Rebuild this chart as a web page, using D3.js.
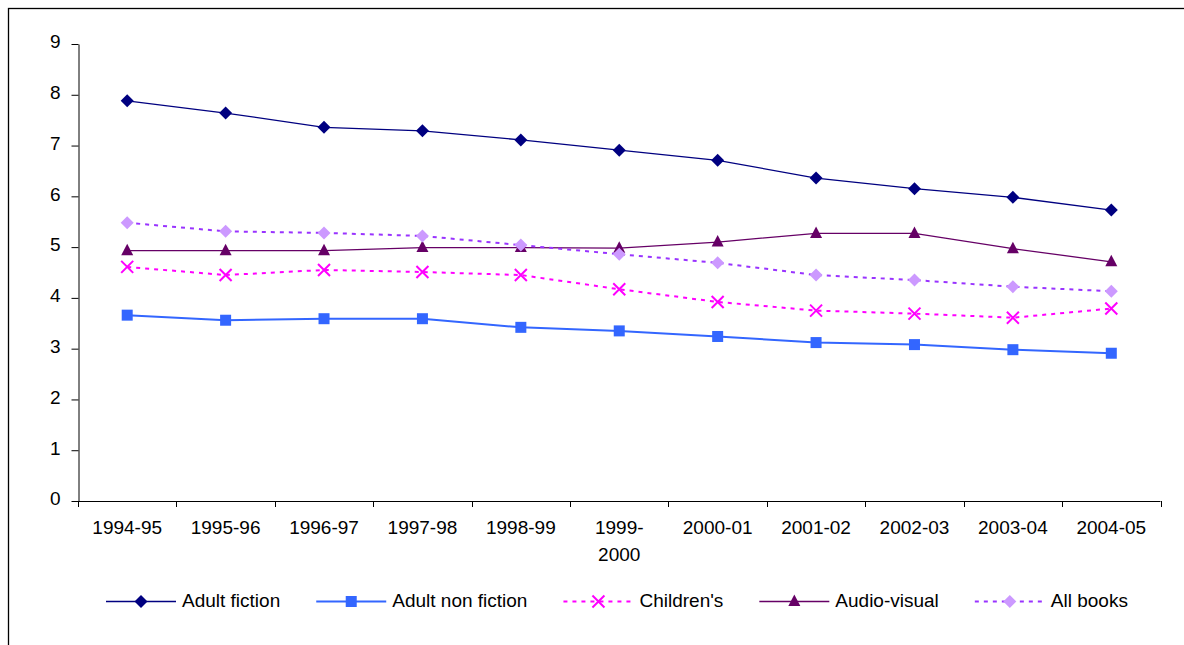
<!DOCTYPE html>
<html>
<head>
<meta charset="utf-8">
<script src="https://cdn.jsdelivr.net/npm/d3@7"></script>
<style>
  body { margin: 0; background: #fff; }
  svg { display: block; font-family: "Liberation Sans", Arial, sans-serif; }
</style>
</head>
<body>
<svg id="chart" width="1184" height="645"></svg>
<script>
// data
const years = ['1994-95', '1995-96', '1996-97', '1997-98', '1998-99', '1999-2000',
    '2000-01', '2001-02', '2002-03', '2003-04', '2004-05'];
const adultFiction = [7.88, 7.64, 7.36, 7.29, 7.11, 6.91, 6.71, 6.36, 6.15, 5.98, 5.73];
const adultNonFiction = [3.66, 3.56, 3.59, 3.59, 3.42, 3.35, 3.24, 3.12, 3.08, 2.98, 2.91];
const childrens = [4.61, 4.45, 4.55, 4.51, 4.45, 4.17, 3.92, 3.75, 3.69, 3.61, 3.79];
const audioVisual = [4.93, 4.93, 4.93, 4.99, 4.99, 4.98, 5.10, 5.27, 5.27, 4.97, 4.71];
const allBooks = [5.48, 5.31, 5.28, 5.22, 5.04, 4.86, 4.69, 4.45, 4.35, 4.22, 4.13];
const yTicks = [0, 1, 2, 3, 4, 5, 6, 7, 8, 9];

const series = [
    {name: 'Adult fiction', values: adultFiction, line: '#000080', fill: '#000080', width: 1.3, dash: null, marker: 'diamond'},
    {name: 'Adult non fiction', values: adultNonFiction, line: '#3366FF', fill: '#3366FF', width: 2, dash: null, marker: 'square'},
    {name: "Children's", values: childrens, line: '#FF00FF', fill: '#FF00FF', width: 2, dash: '4,5', marker: 'x'},
    {name: 'Audio-visual', values: audioVisual, line: '#660066', fill: '#660066', width: 1.3, dash: null, marker: 'triangle'},
    {name: 'All books', values: allBooks, line: '#9933FF', fill: '#CC99FF', width: 2, dash: '4,5', marker: 'diamond'}
];

const svg = d3.select('#chart');

// outer frame (cut off at right / bottom like the original)
svg.append('rect')
    .attr('x', 8.5).attr('y', 8.5)
    .attr('width', 1300).attr('height', 800)
    .attr('fill', 'none').attr('stroke', '#000').attr('stroke-width', 1.3);

const x = d3.scaleBand().domain(years).range([78, 1160.5]).padding(0);
const y = d3.scaleLinear().domain([0, 9]).range([501, 44]);
const cx = d => x(d) + x.bandwidth() / 2;

// y axis
const yAxis = svg.append('g')
    .attr('transform', 'translate(78.5,0)')
    .call(d3.axisLeft(y).tickValues(yTicks).tickSize(7).tickSizeOuter(0).tickPadding(11));
yAxis.selectAll('text').style('font-size', '19px').attr('fill', '#000').attr('dy', '0.2em');
yAxis.select('.domain').attr('stroke', '#000');

// x axis
const xg = svg.append('g');
xg.append('line')
    .attr('x1', x.range()[0]).attr('x2', x.range()[1])
    .attr('y1', y(0) + 0.5).attr('y2', y(0) + 0.5)
    .attr('stroke', '#000');
const edges = years.map(d => x(d)).concat([x.range()[1]]);
xg.selectAll('.xtick').data(edges).enter().append('line')
    .attr('x1', d => Math.round(d) + 0.5).attr('x2', d => Math.round(d) + 0.5)
    .attr('y1', y(0)).attr('y2', y(0) + 6)
    .attr('stroke', '#000');
const xl = xg.selectAll('.xlab').data(years).enter().append('text')
    .attr('x', d => cx(d))
    .attr('y', 534)
    .attr('text-anchor', 'middle')
    .style('font-size', '19px');
xl.each(function (d) {
    const parts = d === '1999-2000' ? ['1999-', '2000'] : [d];
    d3.select(this).selectAll('tspan').data(parts).enter().append('tspan')
        .attr('x', cx(d))
        .attr('dy', (p, i) => i === 0 ? 0 : 27)
        .text(p => p);
});

// markers
function drawMarker(g, type, color, px, py) {
    if (type === 'diamond') {
        g.append('path').attr('d', `M${px},${py - 6.5}L${px + 6.5},${py}L${px},${py + 6.5}L${px - 6.5},${py}Z`).attr('fill', color);
    } else if (type === 'square') {
        g.append('rect').attr('x', px - 5.5).attr('y', py - 5.5).attr('width', 11).attr('height', 11).attr('fill', color);
    } else if (type === 'triangle') {
        g.append('path').attr('d', `M${px},${py - 7}L${px + 6},${py + 4.5}L${px - 6},${py + 4.5}Z`).attr('fill', color);
    } else if (type === 'x') {
        g.append('path').attr('d', `M${px - 6},${py - 6}L${px + 6},${py + 6}M${px + 6},${py - 6}L${px - 6},${py + 6}`)
            .attr('stroke', color).attr('stroke-width', 2).attr('fill', 'none');
    }
}

const line = d3.line().x((d, i) => cx(years[i])).y(d => y(d));
series.forEach(s => {
    const g = svg.append('g');
    g.append('path')
        .datum(s.values)
        .attr('d', line)
        .attr('fill', 'none')
        .attr('stroke', s.line)
        .attr('stroke-width', s.width)
        .attr('stroke-dasharray', s.dash);
    s.values.forEach((v, i) => drawMarker(g, s.marker, s.fill, cx(years[i]), y(v)));
});

// legend
const legend = svg.append('g');
let lx = 106;
const ly = 601.5;
series.forEach(s => {
    const g = legend.append('g');
    g.append('line')
        .attr('x1', lx).attr('x2', lx + 70)
        .attr('y1', ly).attr('y2', ly)
        .attr('stroke', s.line).attr('stroke-width', s.width)
        .attr('stroke-dasharray', s.dash);
    drawMarker(g, s.marker, s.fill, lx + 35, ly);
    const t = g.append('text')
        .attr('x', lx + 76).attr('y', ly + 5.5)
        .style('font-size', '19px')
        .text(s.name);
    lx += 76 + t.node().getComputedTextLength() + 36;
});
</script>
</body>
</html>
